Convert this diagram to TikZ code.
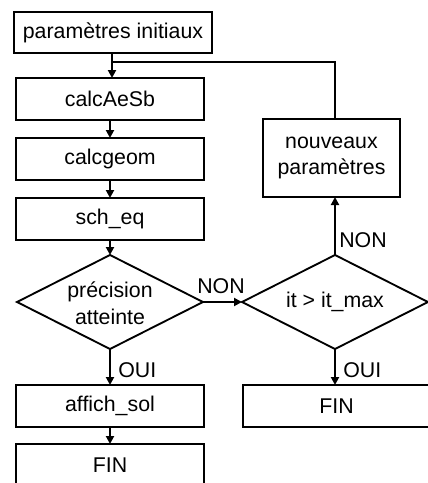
\documentclass[tikz,border=0pt]{standalone}
\usepackage{fontspec}
\setmainfont{Liberation Sans}
\usetikzlibrary{arrows.meta,shapes.geometric}
\begin{document}
\begin{tikzpicture}[x=0.75pt,y=-0.75pt,
  font=\fontsize{16}{20}\selectfont,
  box/.style={draw, line width=0.9pt, minimum width=141pt, minimum height=31.5pt, inner sep=0pt, outer sep=0pt},
  choice/.style={draw, diamond, line width=1.4pt, minimum width=139.5pt, minimum height=70.5pt, inner sep=0pt, outer sep=0pt},
  conn/.style={line width=1.7pt},
  arr/.style={conn, -{Triangle[length=6pt,width=6pt]}},
  lab/.style={inner sep=0pt, anchor=base west}]
\useasboundingbox (0,0) rectangle (428,483);
\begin{scope}
\clip (0,0) rectangle (428,483);
\node[box, minimum width=148.5pt, minimum height=30.75pt] (init) at (113,32.5) {paramètres initiaux};
\node[box] (calc) at (110,99) {calcAeSb};
\node[box] (geom) at (110,159) {calcgeom};
\node[box] (sch) at (110,219) {sch\_eq};
\node[choice] (d1) at (110,302) {};
\node[align=center, inner sep=0pt] (d1t) at (110,303) {précision\\atteinte};
\node[box] (aff) at (110,406) {affich\_sol};
\node[box] (fin1) at (110,465) {FIN};
\node[choice] (d2) at (335,302) {};
\node[inner sep=0pt] (d2t) at (335,302) {it > it\_max};
\node[box, minimum width=102.75pt, minimum height=58.5pt, align=center] (np) at (331.5,158) {nouveaux\\paramètres};
\node[box, minimum width=140.25pt] (fin2) at (336.5,406) {FIN};
\coordinate (j) at (112,62);
\draw[arr] (init.south -| j) -- (calc.north -| j);
\draw[arr] (calc) -- (geom);
\draw[arr] (geom) -- (sch);
\draw[arr] (sch) -- (d1);
\draw[arr] (d1) -- (aff);
\draw[arr] (aff) -- (fin1);
\draw[arr] (d1.east) -- (d2.west);
\draw[arr] (d2.north) -- (d2.north |- np.south);
\draw[arr] (d2.south) -- (fin2.north -| d2.south);
\draw[conn] (np.north -| d2.north) |- (j);
\node[lab] (l1) at (197,293) {NON};
\node[lab] (l2) at (339,247) {NON};
\node[lab] (l3) at (118,377) {OUI};
\node[lab] (l4) at (343,377) {OUI};
\end{scope}
\end{tikzpicture}
\end{document}
